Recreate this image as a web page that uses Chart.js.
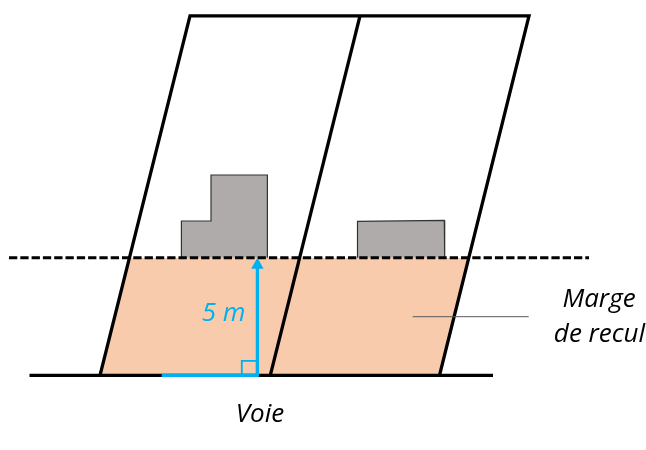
<!DOCTYPE html>
<html>
<head>
<meta charset="utf-8">
<script src="https://cdn.jsdelivr.net/npm/chart.js@4"></script>
<style>
  html, body { margin: 0; padding: 0; background: #fff; }
  canvas { display: block; }
</style>
</head>
<body>
<canvas id="margeChart" width="646" height="450"></canvas>
<script>
// outlines, in picture units
const lotOutlineX = [100, 190, 529, 439.5]
const lotOutlineY = [375.3, 15.8, 15.8, 375.3]
const lotDividerX = [270.3, 360]
const lotDividerY = [375.3, 15.8]
const setbackX = [100, 129.4, 468.7, 439.5]
const setbackY = [375.3, 258, 258, 375.3]
const roadX = [29.5, 493]
const roadY = [375.3, 375.3]
const limitX = [9, 589]
const limitY = [257.8, 257.8]
const houseAX = [181.4, 181.4, 211, 211, 267.4, 267.4]
const houseAY = [257.8, 221, 221, 175, 175, 257.8]
const houseBX = [357.5, 357.5, 444.3, 444.7]
const houseBY = [257.8, 221.4, 220.4, 257.8]
const leaderX = [412.7, 528.7]
const leaderY = [316.7, 316.7]
const baseX = [161.7, 258.8]
const baseY = [375.3, 375.3]
const heightX = [257.4, 257.4]
const heightY = [375.3, 266]
const arrowX = [251.2, 257.4, 263.6]
const arrowY = [268.8, 257.8, 268.8]
const squareX = [241.8, 241.8, 256.8, 256.8]
const squareY = [375, 360.8, 360.8, 375]

const labelTexts = ['5 m', 'Marge', 'de recul', 'Voie']
const labelX = [223.5, 599, 599.5, 260]
const labelY = [314, 300, 335, 415]
const labelColors = ['#00B0F0', '#000000', '#000000', '#000000']

const pts = (xs, ys) => xs.map((x, i) => ({ x: x, y: ys[i] }))

let lineSet = (xs, ys, color, width, extra) => Object.assign({
  data: pts(xs, ys),
  borderColor: color,
  borderWidth: width,
  showLine: true,
  pointRadius: 0,
  tension: 0,
  fill: false,
  clip: false,
  borderCapStyle: 'butt',
  borderJoinStyle: 'miter'
}, extra)

// draws the labels at scale positions, after the marks
const labelPlugin = {
  id: 'labels',
  afterDatasetsDraw(chart) {
    const ctx = chart.ctx
    ctx.save()
    ctx.font = 'italic 26px "Open Sans"'
    ctx.textAlign = 'center'
    ctx.textBaseline = 'middle'
    labelTexts.forEach((txt, i) => {
      ctx.fillStyle = labelColors[i]
      ctx.fillText(txt, chart.scales.x.getPixelForValue(labelX[i]), chart.scales.y.getPixelForValue(labelY[i]))
    })
    ctx.restore()
  }
}

// first dataset ends up on top
const ctx = document.getElementById('margeChart').getContext('2d')
const myChart = new Chart(ctx, {
  type: 'scatter',
  data: {
    datasets: [
      lineSet(arrowX, arrowY, '#00B0F0', 0, { fill: 'shape', backgroundColor: '#00B0F0' }),
      lineSet(heightX, heightY, '#00B0F0', 3.3),
      lineSet(baseX, baseY, '#00B0F0', 3.3),
      lineSet(squareX, squareY, '#00B0F0', 1.8),
      lineSet(leaderX, leaderY, '#595959', 1),
      lineSet(lotDividerX, lotDividerY, '#000000', 3.3),
      lineSet(lotOutlineX, lotOutlineY, '#000000', 3.3),
      lineSet(roadX, roadY, '#000000', 3.3),
      lineSet(limitX, limitY, '#000000', 3, { borderDash: [8.3, 3] }),
      lineSet(houseAX, houseAY, '#333333', 1.2, { fill: 'shape', backgroundColor: '#AFABAB' }),
      lineSet(houseBX, houseBY, '#333333', 1.2, { fill: 'shape', backgroundColor: '#AFABAB' }),
      lineSet(setbackX, setbackY, '#F7CBAC', 0, { fill: 'shape', backgroundColor: '#F7CBAC' })
    ]
  },
  options: {
    responsive: false,
    animation: false,
    layout: { padding: 0 },
    plugins: { legend: { display: false }, tooltip: { enabled: false } },
    scales: {
      x: { type: 'linear', min: 0, max: 646, display: false },
      y: { type: 'linear', min: 0, max: 450, reverse: true, display: false }
    }
  },
  plugins: [labelPlugin]
})
</script>
</body>
</html>
